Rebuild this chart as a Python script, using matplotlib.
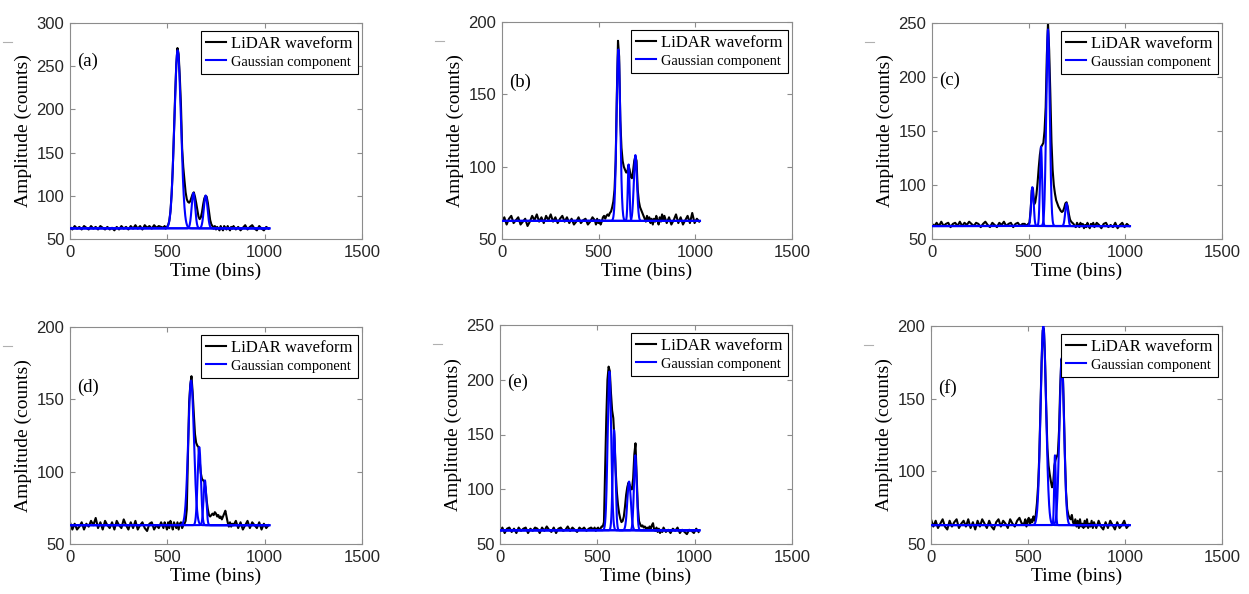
import numpy as np
import matplotlib
matplotlib.use("Agg")
import matplotlib.pyplot as plt
from matplotlib.lines import Line2D

# sampling grid of the digitised waveforms (bins)
x_lo = np.arange(0, 480, 12)
x_pulse = np.arange(480, 840, 6)
x_hi = np.arange(840, 1024, 12)
x_fit = np.arange(1, 1025)

panel_tags = ['(a)', '(b)', '(c)', '(d)', '(e)', '(f)']
y_tops = [300, 200, 250, 200, 250, 200]

# (a)
a_lo = [64, 61, 65, 62, 64, 61, 65, 63, 61, 65, 62, 64, 61, 65, 63, 61, 64, 61, 63, 60,
        64, 61, 65, 62, 64, 61, 65, 62, 66, 62, 65, 61, 66, 63, 65, 62, 66, 63, 65, 64]
a_pulse = [63, 65, 62, 64, 66, 71, 82, 102, 132, 173,
           216, 252, 271, 264, 238, 205, 155, 133, 118, 104,
           96, 93, 92, 94, 98, 102, 104, 99, 92, 84,
           76, 73, 75, 81, 90, 97, 100, 99, 92, 82,
           72, 67, 65, 62, 65, 61, 64, 62, 60, 65,
           62, 60, 65, 63, 61, 65, 62, 60, 64, 62]
a_hi = [65, 61, 64, 60, 63, 66, 61, 64, 66, 62, 60, 65, 62, 60, 64, 62]
a_base = 62.3
a_centers = [553, 634, 697]
a_heights = [206, 41, 38]
a_sigmas = [17, 9, 9.5]

# (b)
b_lo = [62, 65, 60, 64, 66, 61, 63, 65, 60, 62, 64, 59, 62, 66, 63, 67, 62, 65, 61, 66,
        63, 67, 62, 65, 61, 64, 66, 62, 65, 61, 64, 60, 62, 65, 61, 63, 64, 60, 62, 65]
b_pulse = [63, 60, 64, 61, 63, 60, 62, 65, 66, 64,
           66, 67, 66, 68, 69, 72, 76, 84, 104, 150,
           187, 176, 132, 113, 104, 100, 98, 96, 96, 101,
           98, 93, 92, 97, 104, 107, 104, 84, 76, 72,
           70, 68, 66, 64, 62, 66, 63, 65, 61, 64,
           60, 64, 62, 66, 63, 60, 65, 62, 67, 63]
b_hi = [66, 61, 65, 60, 63, 67, 61, 65, 60, 63, 66, 61, 68, 61, 64, 62]
b_base = 62.5
b_centers = [602, 655, 690]
b_heights = [118.5, 39, 45.5]
b_sigmas = [9.5, 4.5, 8]

# (c)
c_lo = [64, 62, 65, 62, 66, 62, 64, 65, 61, 64, 65, 62, 66, 62, 65, 63, 66, 64, 62, 65,
        64, 61, 64, 66, 63, 61, 65, 63, 61, 65, 63, 66, 62, 64, 65, 61, 64, 65, 62, 64]
c_pulse = [64, 62, 63, 64, 65, 76, 95, 97, 82, 84,
           91, 102, 116, 128, 135, 137, 139, 150, 172, 220,
           250, 225, 185, 140, 114, 100, 92, 86, 83, 80,
           78, 76, 75, 76, 79, 83, 84, 80, 73, 68,
           66, 65, 64, 62, 61, 65, 63, 61, 65, 62,
           64, 60, 63, 61, 65, 62, 60, 64, 62, 65]
c_hi = [61, 65, 63, 60, 64, 65, 61, 63, 61, 65, 60, 63, 65, 61, 64, 62]
c_base = 62
c_centers = [519, 564, 600, 696]
c_heights = [36, 73.5, 182, 21]
c_sigmas = [6.5, 5.5, 9, 7]

# (d)
d_lo = [65, 60, 64, 60, 62, 65, 60, 64, 62, 66, 63, 68, 61, 65, 60, 66, 63, 61, 65, 60,
        66, 63, 61, 67, 63, 60, 65, 61, 66, 60, 63, 65, 61, 59, 64, 65, 60, 63, 61, 65]
d_pulse = [61, 65, 63, 60, 65, 61, 66, 63, 60, 65,
           63, 61, 65, 60, 64, 65, 61, 63, 64, 66,
           74, 112, 148, 160, 166, 155, 140, 126, 120, 118,
           117, 108, 99, 95, 94, 93, 89, 80, 74, 70,
           69, 70, 71, 70, 72, 71, 69, 70, 68, 69,
           67, 69, 71, 73, 69, 65, 62, 65, 62, 64]
d_hi = [63, 66, 61, 65, 60, 63, 66, 61, 65, 63, 61, 65, 60, 64, 61, 63]
d_base = 63
d_centers = [622, 664, 693]
d_heights = [100, 54, 31]
d_sigmas = [14.5, 8.5, 7]

# (e)
e_lo = [61, 65, 60, 64, 65, 61, 64, 60, 65, 62, 64, 65, 60, 64, 62, 65, 64, 60, 65, 62,
        66, 63, 61, 65, 60, 64, 65, 62, 63, 66, 62, 65, 63, 61, 65, 63, 65, 62, 64, 65]
e_pulse = [63, 65, 62, 64, 65, 63, 64, 66, 66, 70,
           118, 165, 200, 212, 208, 188, 172, 165, 145, 118,
           98, 86, 78, 73, 70, 71, 75, 84, 95, 102,
           106, 104, 100, 100, 110, 132, 142, 112, 84, 71,
           68, 66, 67, 65, 66, 64, 65, 63, 66, 64,
           67, 69, 63, 62, 65, 61, 64, 60, 63, 61]
e_hi = [65, 61, 63, 60, 64, 62, 65, 60, 63, 61, 59, 63, 62, 60, 64, 61]
e_base = 62.5
e_centers = [562, 586, 663, 695]
e_heights = [145, 91.5, 44.5, 68.5]
e_sigmas = [9, 7, 9, 7]

# (f)
f_lo = [67, 62, 66, 61, 64, 67, 62, 60, 66, 62, 65, 67, 61, 64, 66, 62, 67, 61, 65, 60,
        66, 62, 67, 64, 61, 66, 62, 60, 65, 67, 62, 66, 64, 61, 67, 64, 62, 66, 68, 64]
f_pulse = [64, 67, 62, 66, 68, 63, 67, 65, 69, 66,
           70, 78, 90, 110, 142, 175, 197, 198, 176, 143,
           116, 104, 98, 93, 89, 92, 104, 108, 110, 112,
           128, 158, 177, 174, 146, 112, 86, 74, 70, 68,
           67, 70, 65, 63, 67, 62, 66, 61, 67, 62,
           64, 61, 66, 62, 67, 61, 64, 62, 66, 61]
f_hi = [65, 61, 66, 62, 60, 65, 61, 66, 63, 60, 65, 61, 63, 66, 61, 63]
f_base = 63
f_centers = [579, 639, 674]
f_heights = [137, 48, 115]
f_sigmas = [14, 4, 12]

panels = [
    (a_lo, a_pulse, a_hi, a_base, a_centers, a_heights, a_sigmas),
    (b_lo, b_pulse, b_hi, b_base, b_centers, b_heights, b_sigmas),
    (c_lo, c_pulse, c_hi, c_base, c_centers, c_heights, c_sigmas),
    (d_lo, d_pulse, d_hi, d_base, d_centers, d_heights, d_sigmas),
    (e_lo, e_pulse, e_hi, e_base, e_centers, e_heights, e_sigmas),
    (f_lo, f_pulse, f_hi, f_base, f_centers, f_heights, f_sigmas),
]

# axes boxes in pixels: left, top, right, bottom
W, H = 1249, 594
boxes = [(70, 23, 362, 239), (502, 22, 792, 239), (932, 23, 1222, 239),
         (70, 327, 362, 544), (500, 325, 792, 544), (931, 326, 1222, 544)]
tag_y = [0.824, 0.72, 0.735, 0.72, 0.74, 0.715]

serif = 'Liberation Serif'
sans = 'Liberation Sans'
frame_col = '#8c8c8c'

fig = plt.figure(figsize=(W / 100, H / 100), dpi=100)

for i, (lo, pulse, hi, base, cen, amp, sig) in enumerate(panels):
    l, t, r, b = boxes[i]
    ax = fig.add_axes([l / W, (H - b) / H, (r - l) / W, (b - t) / H])

    xw = np.concatenate([x_lo, x_pulse, x_hi])
    yw = np.concatenate([lo, pulse, hi])
    ax.plot(xw, yw, color='black', lw=1.5, label='LiDAR waveform', zorder=2)
    for k in range(len(cen)):
        yg = base + amp[k] * np.exp(-(x_fit - cen[k]) ** 2 / (2 * sig[k] ** 2))
        ax.plot(x_fit, yg, color='#0000ff', lw=1.5, zorder=3,
                label='Gaussian component' if k == 0 else None)

    ax.set_xlim(0, 1500)
    ax.set_ylim(50, y_tops[i])
    ax.set_xticks([0, 500, 1000, 1500])
    ax.set_yticks(np.arange(50, y_tops[i] + 1, 50))
    ax.tick_params(direction='in', top=True, right=True, length=3.5,
                   color=frame_col, labelcolor='#262626', labelsize=12, pad=4)
    for lab in ax.get_xticklabels() + ax.get_yticklabels():
        lab.set_family(sans)
    for sp in ax.spines.values():
        sp.set_color(frame_col)
        sp.set_linewidth(0.8)

    ax.set_xlabel('Time (bins)', family=serif, fontsize=14, labelpad=2)
    ax.set_ylabel('Amplitude (counts)', family=serif, fontsize=14, labelpad=3)
    ax.text(0.025, tag_y[i], panel_tags[i], transform=ax.transAxes,
            family=serif, fontsize=13.5, va='center', ha='left')

    leg = ax.legend(loc='upper right', bbox_to_anchor=(0.986, 0.963),
                    borderaxespad=0, fancybox=False, framealpha=1,
                    edgecolor='black', handlelength=1.2, handletextpad=0.3,
                    labelspacing=0.15, borderpad=0.3,
                    prop={'family': serif, 'size': 12})
    leg.get_frame().set_linewidth(0.8)
    leg.get_texts()[1].set_fontsize(10.4)

    # small grey dash left of the y label
    yy = 1 - (t + 19) / H
    fig.add_artist(Line2D([(l - 67) / W, (l - 58) / W], [yy, yy],
                          color='#b0b0b0', lw=0.8))

fig.savefig('out.png', dpi=100)
